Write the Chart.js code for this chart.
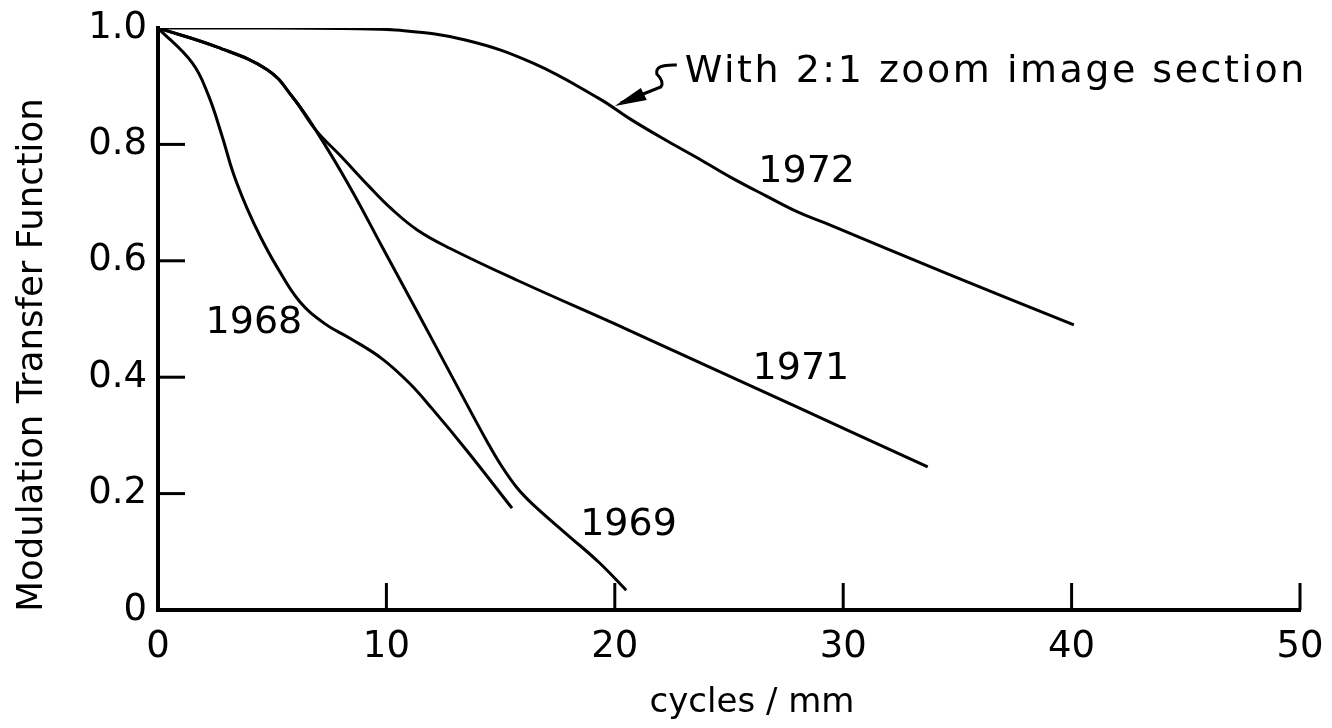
<!DOCTYPE html>
<html>
<head>
<meta charset="utf-8">
<script src="https://cdn.jsdelivr.net/npm/chart.js@4/dist/chart.umd.min.js"></script>
<style>
  html, body { margin: 0; padding: 0; background: #fff; }
  #wrap { width: 1332px; height: 728px; position: relative; }
</style>
</head>
<body>
<div id="wrap"><canvas id="mtf"></canvas></div>
<script>
// MTF curves (x = cycles/mm, y = modulation)
const x1968 = [0, 1.5, 2.2, 2.8, 3.3, 3.9, 4.5, 5.2, 6.2, 7.3, 8.4, 9.8, 11.0, 12.0, 13.5, 15.5];
const y1968 = [1.0, 0.94, 0.885, 0.815, 0.75, 0.69, 0.64, 0.59, 0.53, 0.492, 0.467, 0.432, 0.39, 0.346, 0.275, 0.175];

const x1969 = [0, 2.6, 4.8, 5.9, 6.9, 8.4, 9.8, 10.9, 12.0, 13.5, 14.4, 15.0, 15.7, 16.4, 17.9, 19.3, 20.5];
const y1969 = [1.0, 0.967, 0.928, 0.881, 0.825, 0.727, 0.625, 0.545, 0.465, 0.355, 0.29, 0.25, 0.211, 0.182, 0.13, 0.082, 0.034];

const x1971 = [0, 2.6, 4.8, 5.9, 6.9, 8.0, 9.26, 10.2, 11.35, 12.75, 15.7, 20.6, 25.4, 30.3, 33.7];
const y1971 = [1.0, 0.967, 0.928, 0.881, 0.825, 0.78, 0.727, 0.69, 0.653, 0.622, 0.567, 0.481, 0.395, 0.307, 0.246];

const x1972 = [0, 4, 8, 10.6, 13.5, 16.4, 19.3, 20.7, 22.2, 23.7, 25.1, 26.6, 28, 29.2, 34.6, 40.1];
const y1972 = [1.0, 1.0, 0.999, 0.996, 0.979, 0.94, 0.879, 0.843, 0.808, 0.775, 0.743, 0.712, 0.684, 0.665, 0.577, 0.49];

const seriesNames = ['1968', '1969', '1971', '1972'];
const xTicks = [0, 10, 20, 30, 40, 50];
const yTicks = [0, 0.2, 0.4, 0.6, 0.8, 1.0];

// where the year labels sit (data coords)
const labelSpots = [
  { text: '1968', x: 4.2, y: 0.493 },
  { text: '1969', x: 20.6, y: 0.146 },
  { text: '1971', x: 28.15, y: 0.414 },
  { text: '1972', x: 28.4, y: 0.753 }
];
const noteText = 'With 2:1 zoom image section';
const notePoint = { x: 20, y: 0.866 };

const toPoints = (xs, ys) => xs.map((v, i) => ({ x: v, y: ys[i] }));

const FONT = '"DejaVu Sans", sans-serif';
Chart.defaults.font.family = FONT;
Chart.defaults.color = '#000';

const decor = {
  id: 'decor',
  afterDatasetsDraw(chart) {
    const { ctx, chartArea, scales: { x, y } } = chart;
    ctx.save();
    ctx.strokeStyle = '#000';
    ctx.fillStyle = '#000';
    ctx.lineWidth = 3;

    // inward tick marks
    x.ticks.forEach(t => {
      if (t.value <= 0) return;
      const px = x.getPixelForValue(t.value);
      ctx.beginPath();
      ctx.moveTo(px, chartArea.bottom);
      ctx.lineTo(px, chartArea.bottom - 27);
      ctx.stroke();
    });
    y.ticks.forEach(t => {
      if (t.value <= 0.01 || t.value >= 0.99) return;
      const py = y.getPixelForValue(t.value);
      ctx.beginPath();
      ctx.moveTo(chartArea.left, py);
      ctx.lineTo(chartArea.left + 27, py);
      ctx.stroke();
    });

    // year labels
    ctx.font = '38px ' + FONT;
    ctx.textAlign = 'center';
    ctx.textBaseline = 'middle';
    labelSpots.forEach(l => {
      ctx.fillText(l.text, x.getPixelForValue(l.x), y.getPixelForValue(l.y));
    });

    // annotation with squiggly arrow
    const tx = x.getPixelForValue(notePoint.x);
    const ty = y.getPixelForValue(notePoint.y);
    ctx.lineWidth = 3;
    ctx.beginPath();
    ctx.moveTo(tx + 62, ty - 41);
    ctx.quadraticCurveTo(tx + 40, ty - 42, tx + 42, ty - 32);
    ctx.quadraticCurveTo(tx + 50, ty - 24, tx + 46, ty - 19);
    ctx.lineTo(tx + 6, ty - 3);
    ctx.stroke();
    ctx.beginPath();
    ctx.moveTo(tx, ty);
    ctx.lineTo(tx + 26, ty - 18);
    ctx.lineTo(tx + 32, ty - 6);
    ctx.closePath();
    ctx.fill();

    ctx.textAlign = 'left';
    ctx.textBaseline = 'alphabetic';
    ctx.letterSpacing = '2.5px';
    ctx.fillText(noteText, tx + 70, ty - 24);
    ctx.letterSpacing = '0px';

    // axis titles
    ctx.font = '34px ' + FONT;
    ctx.textAlign = 'center';
    ctx.textBaseline = 'middle';
    ctx.fillText('cycles / mm', 752, 703);

    ctx.font = '35.5px ' + FONT;
    ctx.translate(33, 355);
    ctx.rotate(-Math.PI / 2);
    ctx.fillText('Modulation Transfer Function', 0, 0);
    ctx.restore();
  }
};

const lineStyle = {
  borderColor: '#000',
  borderWidth: 3,
  pointRadius: 0,
  fill: false,
  tension: 0.4
};

new Chart(document.getElementById('mtf'), {
  type: 'line',
  data: {
    datasets: [
      { label: seriesNames[0], data: toPoints(x1968, y1968), ...lineStyle },
      { label: seriesNames[1], data: toPoints(x1969, y1969), ...lineStyle },
      { label: seriesNames[2], data: toPoints(x1971, y1971), ...lineStyle },
      { label: seriesNames[3], data: toPoints(x1972, y1972), ...lineStyle }
    ]
  },
  options: {
    responsive: true,
    maintainAspectRatio: false,
    animation: false,
    layout: { padding: { top: 28, right: 32, left: 0, bottom: 0 } },
    plugins: {
      legend: { display: false },
      tooltip: { enabled: false }
    },
    scales: {
      x: {
        type: 'linear',
        min: 0,
        max: 50,
        grid: { display: false, drawTicks: false },
        border: { display: true, color: '#000', width: 4 },
        ticks: {
          stepSize: 5,
          padding: 15,
          maxRotation: 0,
          autoSkip: false,
          font: { size: 37 },
          callback: v => xTicks.includes(v) ? String(v) : null
        },
        afterFit: s => { s.height = 118; s.paddingLeft = 0; s.paddingRight = 0; }
      },
      y: {
        type: 'linear',
        min: 0,
        max: 1,
        grid: { display: false, drawTicks: false },
        border: { display: true, color: '#000', width: 4 },
        ticks: {
          stepSize: 0.2,
          padding: 11,
          font: { size: 37 },
          callback: v => {
            const t = yTicks.find(k => Math.abs(k - v) < 1e-6);
            if (t === undefined) return null;
            return t === 0 ? '0' : t.toFixed(1);
          }
        },
        afterFit: s => { s.width = 158; s.paddingTop = 0; s.paddingBottom = 0; }
      }
    }
  },
  plugins: [decor]
});
</script>
</body>
</html>
